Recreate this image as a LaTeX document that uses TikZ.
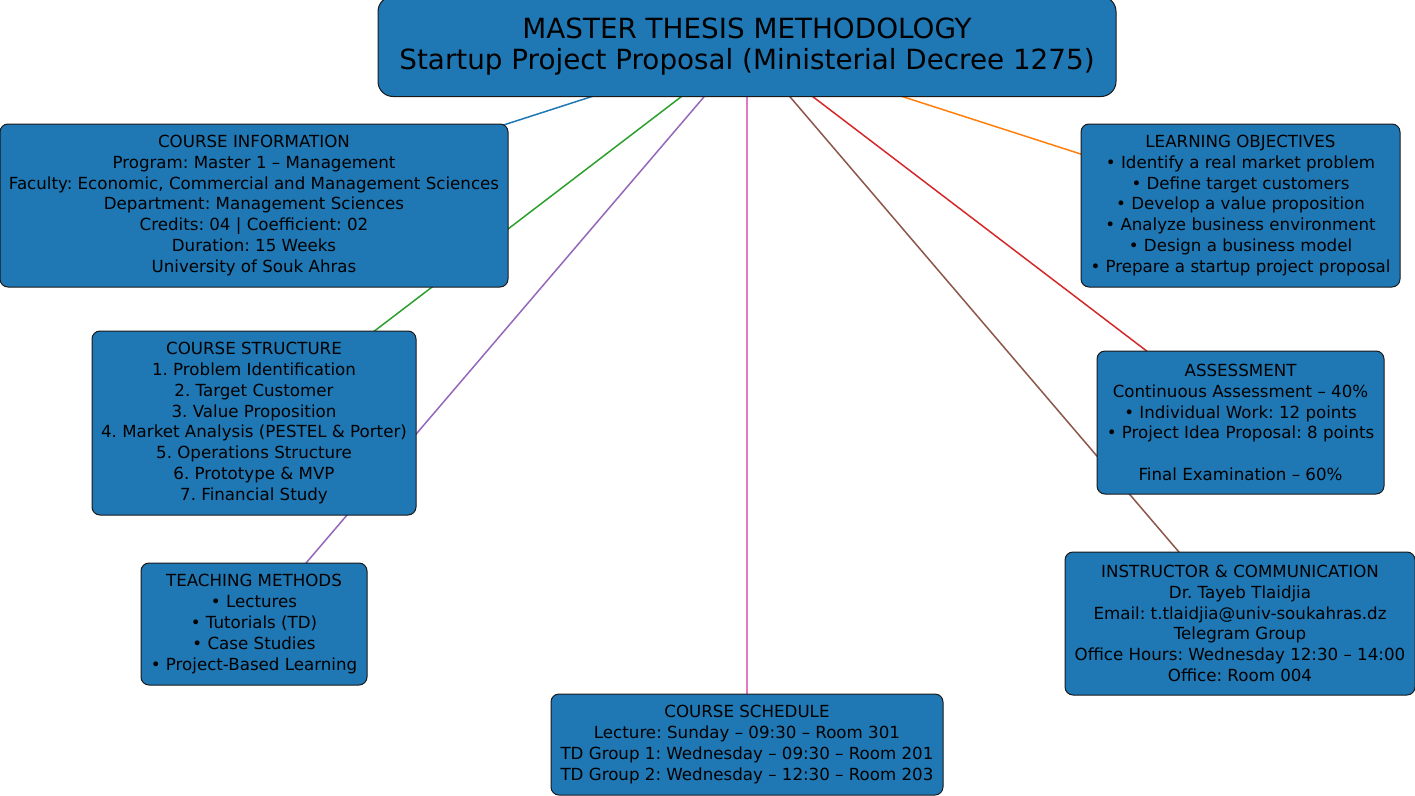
\documentclass[tikz,border=0pt]{standalone}
\usepackage{fontspec}
\setmainfont{DejaVu Sans}
\usetikzlibrary{backgrounds}
\frenchspacing
\definecolor{tabblue}{HTML}{1F77B4}
\definecolor{taborange}{HTML}{FF7F0E}
\definecolor{tabgreen}{HTML}{2CA02C}
\definecolor{tabred}{HTML}{D62728}
\definecolor{tabpurple}{HTML}{9467BD}
\definecolor{tabbrown}{HTML}{8C564B}
\definecolor{tabpink}{HTML}{E377C2}
\begin{document}
\frenchspacing
\begin{tikzpicture}[x=1pt,y=-1pt,
  box/.style={draw=black!90, fill=tabblue, rounded corners=8pt, line width=1pt,
    align=center, inner sep=0pt, text=black, font=\fontsize{16.67}{20.8}\selectfont\frenchspacing},
  titlebox/.style={box, rounded corners=15pt, font=\fontsize{27.8}{31.8}\selectfont\frenchspacing},
  link/.style={line width=1.5pt}]
\useasboundingbox (0,0) rectangle (1415,795);
\clip (0,0) rectangle (1415,795);

\node[titlebox, minimum width=738pt, minimum height=100pt] (title) at (747,46.5)
  {MASTER THESIS METHODOLOGY\\Startup Project Proposal (Ministerial Decree 1275)};

\node[box, minimum width=508pt, minimum height=163pt] (info) at (254,205.5)
  {COURSE INFORMATION\\Program: Master 1 – Management\\Faculty: Economic, Commercial and Management Sciences\\Department: Management Sciences\\Credits: 04 | Coefficient: 02\\Duration: 15 Weeks\\University of Souk Ahras};

\node[box, minimum width=319pt, minimum height=163pt] (obj) at (1240.5,205.5)
  {LEARNING OBJECTIVES\\• Identify a real market problem\\• Define target customers\\• Develop a value proposition\\• Analyze business environment\\• Design a business model\\• Prepare a startup project proposal};

\node[box, minimum width=324pt, minimum height=184pt] (struct) at (254,423)
  {COURSE STRUCTURE\\1. Problem Identification\\2. Target Customer\\3. Value Proposition\\4. Market Analysis (PESTEL \& Porter)\\5. Operations Structure\\6. Prototype \& MVP\\7. Financial Study};

\node[box, minimum width=287pt, minimum height=143pt] (assess) at (1240.5,422.5)
  {ASSESSMENT\\Continuous Assessment – 40\%\\• Individual Work: 12 points\\• Project Idea Proposal: 8 points\\\mbox{}\\Final Examination – 60\%};

\node[box, minimum width=226pt, minimum height=122pt] (teach) at (254,624)
  {TEACHING METHODS\\• Lectures\\• Tutorials (TD)\\• Case Studies\\• Project-Based Learning};

\node[box, minimum width=392pt, minimum height=101pt] (sched) at (747,744.5)
  {COURSE SCHEDULE\\Lecture: Sunday – 09:30 – Room 301\\TD Group 1: Wednesday – 09:30 – Room 201\\TD Group 2: Wednesday – 12:30 – Room 203};

\node[box, minimum width=350pt, minimum height=143pt] (instr) at (1240,623.5)
  {INSTRUCTOR \& COMMUNICATION\\Dr. Tayeb Tlaidjia\\Email: t.tlaidjia@univ-soukahras.dz\\Telegram Group\\Office Hours: Wednesday 12:30 – 14:00\\Office: Room 004};

\begin{scope}[on background layer]
  \draw[link, tabblue] (title.center) -- (info.center);
  \draw[link, taborange] (title.center) -- (obj.center);
  \draw[link, tabgreen] (title.center) -- (struct.center);
  \draw[link, tabred] (title.center) -- (assess.center);
  \draw[link, tabpurple] (title.center) -- (teach.center);
  \draw[link, tabbrown] (title.center) -- (instr.center);
  \draw[link, tabpink] (title.center) -- (sched.center);
\end{scope}
\end{tikzpicture}
\end{document}
